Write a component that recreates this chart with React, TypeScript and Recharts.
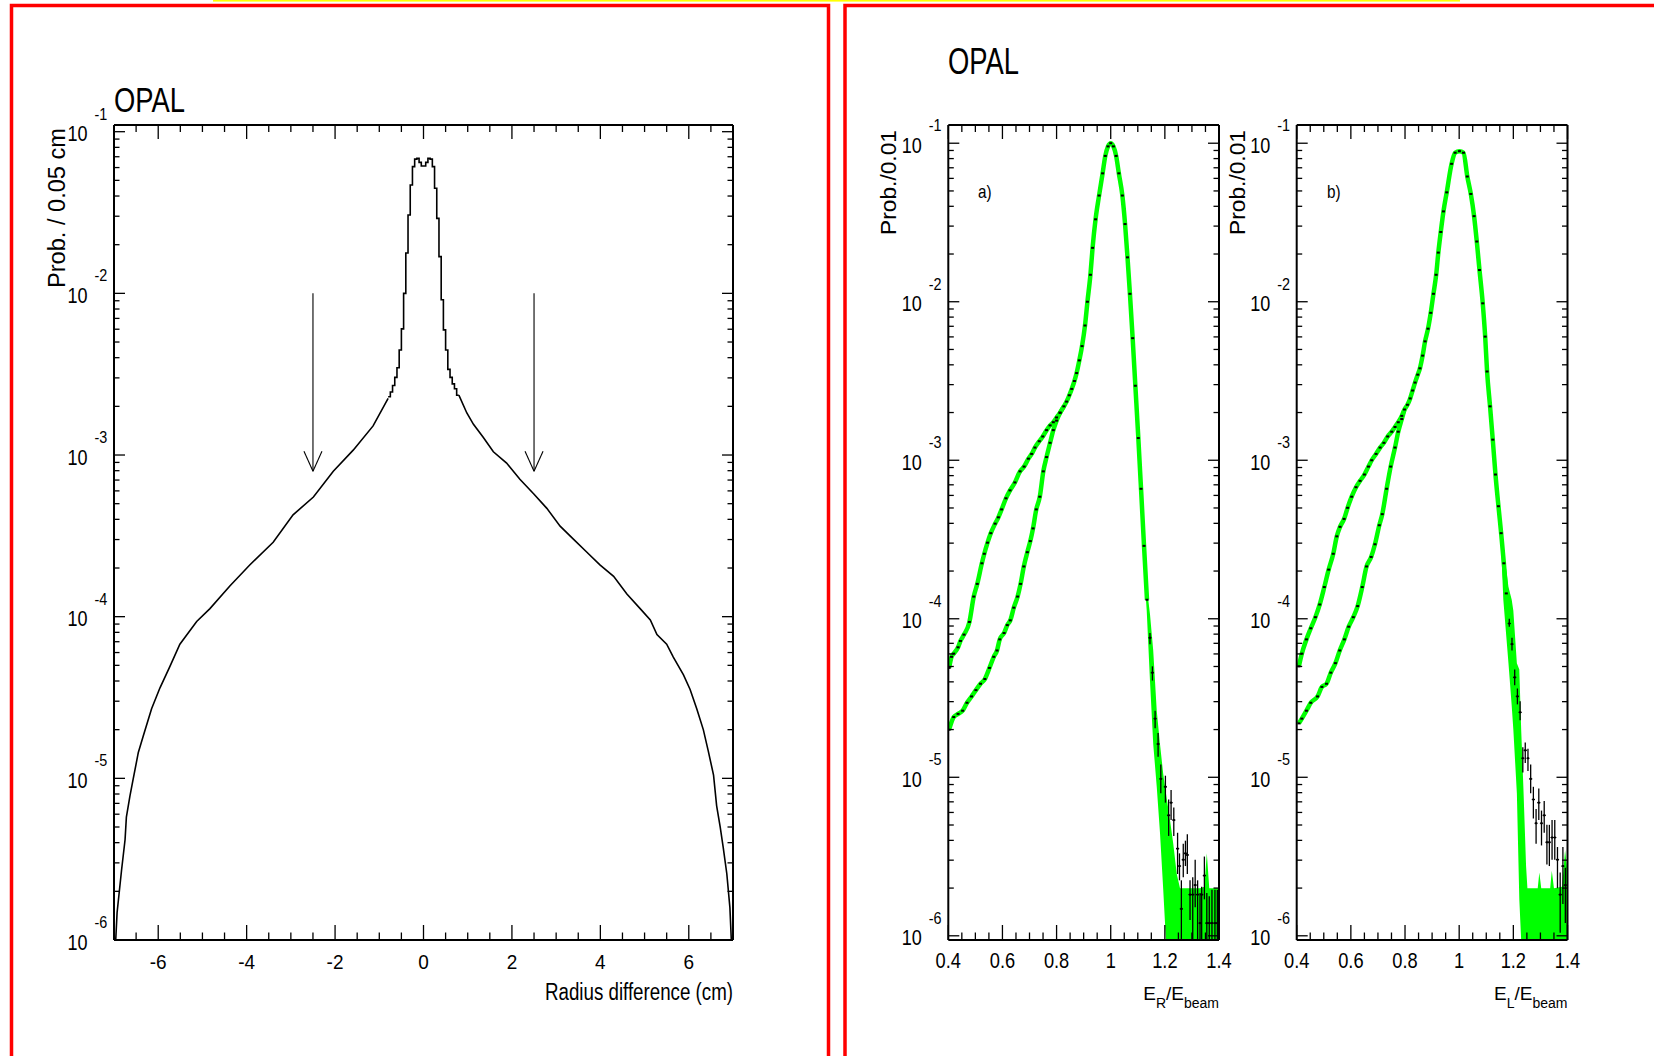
import React from 'react';
import { ComposedChart, Line, Scatter, Area, XAxis, YAxis, ReferenceLine, ErrorBar } from 'recharts';

const FONT = "'Liberation Sans', Arial, Helvetica, sans-serif";

// ---------------- Left panel: radius difference (values are log10 of Prob./0.05 cm) -------------
const radiusLeftX = [-6.97, -6.93, -6.83, -6.75, -6.72, -6.64, -6.57, -6.45, -6.34, -6.15, -5.96, -5.74, -5.51, -5.13, -4.83, -4.38, -3.93, -3.40, -2.95, -2.49, -2.04, -1.59, -1.14, -0.80];
const radiusLeftExp = [-6.05, -5.83, -5.57, -5.38, -5.24, -5.11, -5.01, -4.84, -4.74, -4.57, -4.44, -4.31, -4.17, -4.03, -3.95, -3.81, -3.68, -3.54, -3.37, -3.26, -3.10, -2.97, -2.82, -2.65];
const radiusCoreX = [-0.80, -0.75, -0.70, -0.65, -0.60, -0.55, -0.50, -0.45, -0.40, -0.35, -0.30, -0.25, -0.20, -0.15, -0.10, -0.05, 0.00, 0.05, 0.10, 0.15, 0.20, 0.25, 0.30, 0.35, 0.40, 0.45, 0.50, 0.55, 0.60, 0.65, 0.70, 0.75, 0.80];
const radiusCoreExp = [-2.64, -2.61, -2.57, -2.52, -2.46, -2.35, -2.22, -2.00, -1.75, -1.515, -1.33, -1.216, -1.17, -1.165, -1.19, -1.212, -1.212, -1.19, -1.165, -1.17, -1.216, -1.35, -1.536, -1.773, -2.04, -2.226, -2.35, -2.47, -2.52, -2.56, -2.59, -2.63, -2.63];
const radiusRightX = [0.80, 0.98, 1.13, 1.35, 1.58, 1.88, 2.18, 2.49, 2.79, 3.09, 3.39, 3.69, 3.99, 4.30, 4.60, 4.90, 5.13, 5.28, 5.50, 5.65, 5.88, 6.03, 6.18, 6.33, 6.44, 6.56, 6.63, 6.71, 6.78, 6.86, 6.93, 6.97];
const radiusRightExp = [-2.63, -2.74, -2.81, -2.89, -2.98, -3.05, -3.15, -3.24, -3.33, -3.44, -3.52, -3.60, -3.68, -3.75, -3.86, -3.95, -4.02, -4.11, -4.17, -4.25, -4.36, -4.45, -4.57, -4.70, -4.83, -4.98, -5.17, -5.30, -5.43, -5.59, -5.80, -6.05];
const arrowX = [-2.5, 2.5];
const arrowFromExp = -2.0;
const arrowToExp = -3.1;

// ---------------- Panel a) E_R/E_beam (log10 of Prob./0.01) ----------------
const aUpperX = [0.403, 0.412, 0.420, 0.436, 0.445, 0.458, 0.478, 0.494, 0.507, 0.524, 0.533, 0.545, 0.557, 0.573, 0.585, 0.597, 0.613, 0.628, 0.646, 0.665, 0.680, 0.696, 0.708, 0.720, 0.736, 0.749, 0.763, 0.776, 0.788, 0.800, 0.813];
const aUpperExp = [-4.31, -4.24, -4.22, -4.18, -4.14, -4.10, -4.02, -3.86, -3.78, -3.65, -3.59, -3.52, -3.46, -3.40, -3.36, -3.31, -3.24, -3.19, -3.14, -3.07, -3.04, -2.99, -2.96, -2.92, -2.88, -2.85, -2.81, -2.78, -2.76, -2.73, -2.70];
const aLowerX = [0.403, 0.420, 0.436, 0.453, 0.469, 0.486, 0.502, 0.519, 0.535, 0.552, 0.568, 0.580, 0.590, 0.606, 0.618, 0.629, 0.642, 0.656, 0.667, 0.679, 0.692, 0.703, 0.713, 0.725, 0.738, 0.751, 0.763, 0.776, 0.788, 0.800, 0.813];
const aLowerExp = [-4.70, -4.62, -4.60, -4.58, -4.53, -4.49, -4.45, -4.41, -4.38, -4.31, -4.24, -4.20, -4.13, -4.09, -4.04, -4.01, -3.93, -3.86, -3.78, -3.67, -3.58, -3.51, -3.43, -3.31, -3.23, -3.07, -2.98, -2.89, -2.81, -2.75, -2.70];
const aCoreX = [0.827, 0.837, 0.847, 0.856, 0.866, 0.874, 0.884, 0.894, 0.905, 0.914, 0.925, 0.933, 0.944, 0.957, 0.970, 0.980, 0.990, 1.000, 1.010, 1.020, 1.030, 1.043, 1.053, 1.062, 1.071, 1.081, 1.091, 1.102, 1.112, 1.123, 1.134];
const aCoreExp = [-2.66, -2.63, -2.59, -2.55, -2.50, -2.45, -2.37, -2.28, -2.15, -2.00, -1.83, -1.66, -1.48, -1.33, -1.19, -1.08, -1.02, -1.00, -1.02, -1.08, -1.19, -1.33, -1.51, -1.72, -1.95, -2.23, -2.53, -2.86, -3.18, -3.54, -3.88];
const aTailX = [1.145, 1.154, 1.164, 1.175, 1.185, 1.202, 1.214, 1.223, 1.233, 1.247, 1.254, 1.261, 1.268, 1.276, 1.283, 1.293, 1.303, 1.312, 1.321, 1.330, 1.336, 1.346, 1.355, 1.364, 1.374, 1.385, 1.394];
const aTailExp = [-4.12, -4.34, -4.63, -4.79, -5.01, -5.06, -5.24, -5.16, -5.27, -5.45, -5.56, -5.83, -5.52, -5.48, -5.49, -5.74, -5.74, -5.68, -5.74, -5.92, -5.74, -5.62, -5.92, -5.92, -5.92, -5.92, -5.92];
const aTailHiExp = [-4.09, -4.30, -4.58, -4.72, -4.92, -4.99, -5.14, -5.08, -5.19, -5.35, -5.48, -5.65, -5.42, -5.40, -5.36, -5.65, -5.63, -5.52, -5.65, -5.73, -5.69, -5.50, -5.73, -5.75, -5.71, -5.71, -5.71];
const aTailLoExp = [-4.16, -4.39, -4.69, -4.87, -5.10, -5.16, -5.37, -5.27, -5.37, -5.61, -5.65, -6.02, -5.63, -5.56, -5.61, -5.90, -6.02, -5.82, -6.02, -6.02, -6.02, -5.77, -6.02, -6.02, -6.02, -6.02, -6.02];
const aBandX = [1.120, 1.133, 1.145, 1.157, 1.170, 1.182, 1.194, 1.204, 1.219, 1.231, 1.244, 1.256, 1.330, 1.346, 1.355, 1.364, 1.400];
const aBandHiExp = [-3.40, -3.80, -3.97, -4.20, -4.58, -4.79, -4.98, -5.10, -5.27, -5.42, -5.61, -5.70, -5.70, -5.69, -5.48, -5.70, -5.70];
const aBandLoExp = [-3.62, -3.95, -4.39, -4.79, -5.06, -5.35, -5.71, -6.03, -6.03, -6.03, -6.03, -6.03, -6.03, -6.03, -6.03, -6.03, -6.03];

// ---------------- Panel b) E_L/E_beam ----------------
const bUpperX = [0.408, 0.419, 0.436, 0.452, 0.469, 0.485, 0.502, 0.518, 0.535, 0.548, 0.560, 0.575, 0.588, 0.603, 0.619, 0.634, 0.650, 0.665, 0.677, 0.693, 0.708, 0.722, 0.736, 0.751, 0.763, 0.775, 0.788];
const bUpperExp = [-4.30, -4.22, -4.13, -4.06, -3.99, -3.91, -3.80, -3.69, -3.59, -3.48, -3.42, -3.37, -3.30, -3.23, -3.17, -3.13, -3.09, -3.04, -3.00, -2.96, -2.92, -2.89, -2.85, -2.82, -2.79, -2.76, -2.72];
const bLowerX = [0.408, 0.419, 0.436, 0.452, 0.477, 0.493, 0.510, 0.526, 0.543, 0.559, 0.576, 0.592, 0.609, 0.625, 0.642, 0.658, 0.675, 0.689, 0.705, 0.716, 0.732, 0.747, 0.763, 0.775, 0.788];
const bLowerExp = [-4.66, -4.63, -4.58, -4.53, -4.49, -4.43, -4.41, -4.34, -4.28, -4.20, -4.13, -4.05, -3.99, -3.92, -3.80, -3.67, -3.61, -3.53, -3.41, -3.34, -3.18, -3.04, -2.92, -2.82, -2.74];
const bCoreX = [0.798, 0.809, 0.819, 0.828, 0.837, 0.847, 0.855, 0.865, 0.874, 0.885, 0.895, 0.905, 0.915, 0.923, 0.932, 0.942, 0.954, 0.972, 0.985, 1.001, 1.016, 1.030, 1.043, 1.055, 1.065, 1.075, 1.087, 1.096, 1.103, 1.114, 1.124, 1.134, 1.145, 1.155, 1.165, 1.174];
const bCoreExp = [-2.68, -2.65, -2.61, -2.56, -2.51, -2.46, -2.42, -2.34, -2.25, -2.17, -2.07, -1.95, -1.83, -1.69, -1.56, -1.43, -1.31, -1.13, -1.06, -1.05, -1.06, -1.21, -1.32, -1.46, -1.62, -1.80, -2.01, -2.22, -2.44, -2.66, -2.87, -3.09, -3.29, -3.46, -3.65, -3.84];
const bTailX = [1.185, 1.195, 1.205, 1.215, 1.225, 1.235, 1.244, 1.254, 1.264, 1.274, 1.284, 1.294, 1.304, 1.314, 1.324, 1.333, 1.343, 1.353, 1.363, 1.373, 1.383, 1.392];
const bTailExp = [-4.03, -4.16, -4.37, -4.49, -4.59, -4.88, -4.83, -4.88, -5.01, -5.14, -5.29, -5.16, -5.29, -5.24, -5.41, -5.41, -5.38, -5.38, -5.52, -5.74, -5.56, -5.68];
const bTailHiExp = [-4.00, -4.12, -4.32, -4.44, -4.52, -4.81, -4.78, -4.82, -4.92, -5.06, -5.20, -5.07, -5.21, -5.15, -5.30, -5.30, -5.27, -5.27, -5.44, -5.60, -5.44, -5.57];
const bTailLoExp = [-4.05, -4.20, -4.42, -4.54, -4.64, -4.97, -4.91, -4.96, -5.10, -5.26, -5.42, -5.27, -5.43, -5.35, -5.55, -5.56, -5.52, -5.52, -5.70, -5.98, -5.80, -5.92];
const bBandX = [1.155, 1.163, 1.182, 1.194, 1.200, 1.213, 1.222, 1.229, 1.237, 1.247, 1.252, 1.274, 1.290, 1.296, 1.303, 1.336, 1.342, 1.350, 1.380, 1.391, 1.400];
const bBandHiExp = [-3.40, -3.55, -3.80, -3.88, -3.95, -4.28, -4.32, -4.70, -5.06, -5.56, -5.70, -5.70, -5.70, -5.60, -5.70, -5.70, -5.59, -5.70, -5.69, -5.46, -5.60];
const bBandLoExp = [-3.55, -3.88, -4.28, -4.55, -4.70, -5.10, -5.77, -6.03, -6.03, -6.03, -6.03, -6.03, -6.03, -6.03, -6.03, -6.03, -6.03, -6.03, -6.03, -6.03, -6.03];

// ---------------- Axis ticks ----------------
const radiusTicks = [-7, -6.5, -6, -5.5, -5, -4.5, -4, -3.5, -3, -2.5, -2, -1.5, -1, -0.5, 0, 0.5, 1, 1.5, 2, 2.5, 3, 3.5, 4, 4.5, 5, 5.5, 6, 6.5, 7];
const radiusLabels = [-6, -4, -2, 0, 2, 4, 6];
const energyTicks = [0.4, 0.45, 0.5, 0.55, 0.6, 0.65, 0.7, 0.75, 0.8, 0.85, 0.9, 0.95, 1.0, 1.05, 1.1, 1.15, 1.2, 1.25, 1.3, 1.35, 1.4];
const energyLabels = [0.4, 0.6, 0.8, 1.0, 1.2, 1.4];
const decades = [1e-6, 1e-5, 1e-4, 1e-3, 1e-2, 1e-1];
const mantissas = [1, 2, 3, 4, 5, 6, 7, 8, 9];

const logTicks: number[] = [];
decades.forEach((d, i) => {
  if (i === decades.length - 1) logTicks.push(d);
  else mantissas.forEach((m) => logTicks.push(d * m));
});

const rows = (xs: number[], ex: number[]) => xs.map((x, i) => ({ x, y: Math.pow(10, ex[i]) }));
const bandRows = (xs: number[], hi: number[], lo: number[]) =>
  xs.map((x, i) => ({ x, r: [Math.pow(10, lo[i]), Math.pow(10, hi[i])] }));
const errRows = (xs: number[], ex: number[], hi: number[], lo: number[]) =>
  xs.map((x, i) => {
    const y = Math.pow(10, ex[i]);
    return { x, y, err: [y - Math.pow(10, lo[i]), Math.pow(10, hi[i]) - y] };
  });

const isMajorLog = (v: number) => Math.abs(Math.log10(v) - Math.round(Math.log10(v))) < 1e-6;
const near = (list: number[], v: number) => list.some((l) => Math.abs(l - v) < 1e-6);

type PanelProps = {
  left: number;
  width: number;
  plot: { left: number; right: number; top: number; bottom: number };
  xDomain: [number, number];
  xTicks: number[];
  xLabels: number[];
  xFont: number;
  xScaleX: number;
  xDy: number;
  yDomain: [number, number];
  children: React.ReactNode;
};

const AX = 1; // axis band thickness (must be > 0 for recharts to draw the axis)

function Panel(p: PanelProps) {
  const BottomTick = (t: any) => {
    const v = t.payload.value;
    const major = near(p.xLabels, v);
    return (
      <g>
        <line x1={t.x} x2={t.x} y1={t.y} y2={t.y - (major ? 15 : 7.5)} stroke="#000" strokeWidth={1.3} />
        {major && (
          <text transform={`translate(${t.x} ${t.y + p.xDy}) scale(${p.xScaleX} 1)`} textAnchor="middle"
            fontSize={p.xFont} fontFamily={FONT} fill="#000">
            {String(Number(v.toFixed(1)))}
          </text>
        )}
      </g>
    );
  };
  const TopTick = (t: any) => {
    const major = near(p.xLabels, t.payload.value);
    return <line x1={t.x} x2={t.x} y1={t.y} y2={t.y + (major ? 14 : 7)} stroke="#000" strokeWidth={1.3} />;
  };
  const LeftTick = (t: any) => {
    const v = t.payload.value;
    const major = isMajorLog(v);
    return (
      <g>
        <line x1={t.x} x2={t.x + (major ? 11 : 5.5)} y1={t.y} y2={t.y} stroke="#000" strokeWidth={1.3} />
        {major && (
          <g fontFamily={FONT} fill="#000">
            <text transform={`translate(${t.x - 26.5} ${t.y + 9.5}) scale(0.82 1)`} textAnchor="end" fontSize={22}>10</text>
            <text transform={`translate(${t.x - 19.5} ${t.y - 12}) scale(0.9 1)`} textAnchor="start" fontSize={16}>
              {String(Math.round(Math.log10(v)))}
            </text>
          </g>
        )}
      </g>
    );
  };
  const RightTick = (t: any) => {
    const major = isMajorLog(t.payload.value);
    return <line x1={t.x} x2={t.x - (major ? 11 : 5.5)} y1={t.y} y2={t.y} stroke="#000" strokeWidth={1.3} />;
  };
  const axisLine = { stroke: '#000', strokeWidth: 2 };
  const margin = {
    top: p.plot.top - AX,
    bottom: 1056 - p.plot.bottom - AX,
    left: p.plot.left - AX,
    right: p.width - p.plot.right - AX,
  };
  return (
    <div style={{ position: 'absolute', left: p.left, top: 0 }}>
      <ComposedChart width={p.width} height={1056} margin={margin}>
        {p.children}
        <XAxis xAxisId={0} dataKey="x" type="number" domain={p.xDomain} ticks={p.xTicks} interval={0}
          allowDataOverflow height={AX} tickSize={0} tickMargin={0} tickLine={false} axisLine={axisLine} tick={BottomTick} />
        <XAxis xAxisId="top" orientation="top" dataKey="x" type="number" domain={p.xDomain} ticks={p.xTicks} interval={0}
          allowDataOverflow height={AX} tickSize={0} tickMargin={0} tickLine={false} axisLine={axisLine} tick={TopTick} />
        <YAxis yAxisId={0} type="number" scale="log" domain={p.yDomain} ticks={logTicks} interval={0}
          allowDataOverflow width={AX} tickSize={0} tickMargin={0} tickLine={false} axisLine={axisLine} tick={LeftTick} />
        <YAxis yAxisId="right" orientation="right" type="number" scale="log" domain={p.yDomain} ticks={logTicks} interval={0}
          allowDataOverflow width={AX} tickSize={0} tickMargin={0} tickLine={false} axisLine={axisLine} tick={RightTick} />
      </ComposedChart>
    </div>
  );
}

const PointMark = (p: any) => <rect x={p.cx - 1.5} y={p.cy - 1} width={3} height={2} fill="#000" />;
const TailMark = (p: any) => (
  <g>
    <line x1={p.cx - 1.6} x2={p.cx + 1.6} y1={p.cy} y2={p.cy} stroke="#000" strokeWidth={1.2} />
    <rect x={p.cx - 1} y={p.cy - 1} width={2} height={2} fill="#000" />
  </g>
);

const ArrowShape = (p: any) => {
  const { x1, y1, x2, y2 } = p;
  return (
    <g stroke="#000" strokeWidth={1.1} fill="none">
      <line x1={x1} y1={y1} x2={x2} y2={y2} />
      <line x1={x2 - 9} y1={y2 - 20} x2={x2} y2={y2} />
      <line x1={x2 + 9} y1={y2 - 20} x2={x2} y2={y2} />
    </g>
  );
};

const GREEN = '#00ff00';

function EnergyPanel(props: {
  left: number; width: number; plot: any;
  upper: any[]; lower: any[]; core: any[]; tail: any[]; band: any[];
}) {
  const { upper, lower, core, tail, band } = props;
  return (
    <Panel left={props.left} width={props.width} plot={props.plot} xDomain={[0.4, 1.4]} xTicks={energyTicks}
      xLabels={energyLabels} xFont={22} xScaleX={0.83} xDy={28} yDomain={[9.408e-7, 0.1303]}>
      <Area data={band} dataKey="r" type="linear" stroke="none" fill={GREEN} fillOpacity={1} isAnimationActive={false} />
      <Line data={[...upper, ...core]} dataKey="y" type="monotone" stroke={GREEN} strokeWidth={4.5} dot={false}
        activeDot={false} isAnimationActive={false} />
      <Line data={[...lower, core[0]]} dataKey="y" type="monotone" stroke={GREEN} strokeWidth={4.5} dot={false}
        activeDot={false} isAnimationActive={false} />
      <Scatter data={[...upper, ...lower, ...core]} dataKey="y" shape={PointMark} isAnimationActive={false} />
      <Scatter data={tail} dataKey="y" shape={TailMark} isAnimationActive={false}>
        <ErrorBar dataKey="err" direction="y" width={0} stroke="#000" strokeWidth={1.3} isAnimationActive={false} />
      </Scatter>
    </Panel>
  );
}

export default function App() {
  const leftTail = rows(radiusLeftX, radiusLeftExp);
  const core = rows(radiusCoreX, radiusCoreExp);
  const rightTail = rows(radiusRightX, radiusRightExp);

  return (
    <div style={{ position: 'absolute', left: 0, top: 0, width: 1654, height: 1056, background: '#fff', overflow: 'hidden' }}>
      <Panel left={0} width={830} plot={{ left: 114, right: 733, top: 125, bottom: 940 }} xDomain={[-7, 7]}
        xTicks={radiusTicks} xLabels={radiusLabels} xFont={20} xScaleX={0.95} xDy={29} yDomain={[1e-6, 0.11]}>
        <Line data={leftTail} dataKey="y" type="linear" stroke="#000" strokeWidth={1.6} dot={false} activeDot={false} isAnimationActive={false} />
        <Line data={core} dataKey="y" type="stepAfter" stroke="#000" strokeWidth={1.6} dot={false} activeDot={false} isAnimationActive={false} />
        <Line data={rightTail} dataKey="y" type="linear" stroke="#000" strokeWidth={1.6} dot={false} activeDot={false} isAnimationActive={false} />
        {arrowX.map((ax) => (
          <ReferenceLine key={ax} segment={[{ x: ax, y: Math.pow(10, arrowFromExp) }, { x: ax, y: Math.pow(10, arrowToExp) }]}
            shape={ArrowShape} />
        ))}
      </Panel>

      <EnergyPanel left={840} width={410} plot={{ left: 948.3 - 840, right: 1219 - 840, top: 125, bottom: 940 }}
        upper={rows(aUpperX, aUpperExp)} lower={rows(aLowerX, aLowerExp)} core={rows(aCoreX, aCoreExp)}
        tail={errRows(aTailX, aTailExp, aTailHiExp, aTailLoExp)} band={bandRows(aBandX, aBandHiExp, aBandLoExp)} />
      <EnergyPanel left={1222} width={432} plot={{ left: 1296.7 - 1222, right: 1567.5 - 1222, top: 125, bottom: 940 }}
        upper={rows(bUpperX, bUpperExp)} lower={rows(bLowerX, bLowerExp)} core={rows(bCoreX, bCoreExp)}
        tail={errRows(bTailX, bTailExp, bTailHiExp, bTailLoExp)} band={bandRows(bBandX, bBandHiExp, bBandLoExp)} />

      <svg width={1654} height={1056} style={{ position: 'absolute', left: 0, top: 0, pointerEvents: 'none' }}
        fontFamily={FONT} fill="#000">
        <rect x={213} y={0} width={1247} height={1.6} fill="#ffff00" />
        <path d="M11.5 1060 V5.5 H828.5 V1060" fill="none" stroke="#ff0000" strokeWidth={3.5} />
        <path d="M845 1060 V5.5 H1660" fill="none" stroke="#ff0000" strokeWidth={3.5} />

        <text x={114} y={112} fontSize={35} textLength={71} lengthAdjust="spacingAndGlyphs">OPAL</text>
        <text x={948} y={74} fontSize={36} textLength={71} lengthAdjust="spacingAndGlyphs">OPAL</text>

        <text transform="translate(65 208) rotate(-90)" textAnchor="middle" fontSize={23} textLength={160}
          lengthAdjust="spacingAndGlyphs">Prob. / 0.05 cm</text>
        <text transform="translate(896 182.5) rotate(-90)" textAnchor="middle" fontSize={22} textLength={105}
          lengthAdjust="spacingAndGlyphs">Prob./0.01</text>
        <text transform="translate(1245 182.5) rotate(-90)" textAnchor="middle" fontSize={22} textLength={105}
          lengthAdjust="spacingAndGlyphs">Prob./0.01</text>

        <text x={733} y={1000} textAnchor="end" fontSize={23} textLength={188} lengthAdjust="spacingAndGlyphs">
          Radius difference (cm)
        </text>
        <text x={1219} y={1000} textAnchor="end" fontSize={19}>
          E<tspan fontSize={14} dy={8}>R</tspan><tspan dy={-8}>/E</tspan><tspan fontSize={14} dy={8}>beam</tspan>
        </text>
        <text x={1567.5} y={1000} textAnchor="end" fontSize={19}>
          E<tspan fontSize={14} dy={8}>L</tspan><tspan dy={-8}>/E</tspan><tspan fontSize={14} dy={8}>beam</tspan>
        </text>

        <text transform="translate(978 198) scale(0.85 1)" fontSize={18}>a)</text>
        <text transform="translate(1327 198) scale(0.85 1)" fontSize={18}>b)</text>
      </svg>
    </div>
  );
}
